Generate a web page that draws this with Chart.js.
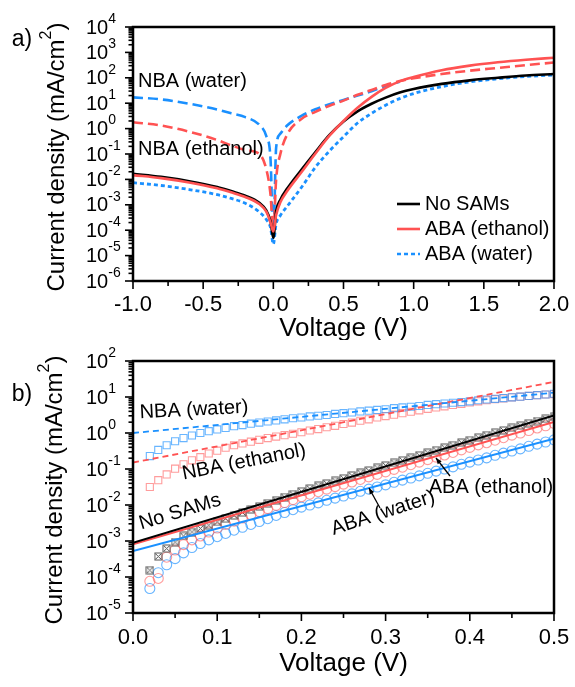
<!DOCTYPE html>
<html><head><meta charset="utf-8">
<script src="https://cdn.jsdelivr.net/npm/chart.js@4/dist/chart.umd.min.js"></script>
<style>
html,body{margin:0;padding:0;background:#fff;}
#wrap{position:relative;width:575px;height:687px;overflow:hidden;}
#ca{position:absolute;left:0;top:0;}
#cb{position:absolute;left:0;top:340px;}
</style></head><body>
<div id="wrap"><canvas id="ca" width="575" height="340"></canvas><canvas id="cb" width="575" height="347"></canvas></div>
<script>
// ---------- Panel a: J-V curves (values are log10 of current density, mA/cm2) ----------
const VA = [-1.0,-0.8,-0.6,-0.4,-0.3,-0.2,-0.1,-0.05,-0.02,0,0.02,0.05,0.1,0.2,0.3,0.4,0.5,0.6,0.7,0.8,0.9,1.0,1.2,1.4,1.6,1.8,2.0];
const A_noSAMs = [-1.78,-1.90,-2.07,-2.30,-2.46,-2.64,-2.92,-3.22,-3.65,-4.30,-3.25,-2.80,-2.35,-1.62,-0.92,-0.25,0.28,0.68,0.98,1.22,1.42,1.56,1.76,1.90,2.00,2.09,2.15];
const A_abaEth = [-1.83,-1.95,-2.12,-2.35,-2.51,-2.69,-2.97,-3.27,-3.70,-4.05,-3.40,-2.90,-2.45,-1.72,-0.98,-0.28,0.30,0.82,1.25,1.60,1.86,2.03,2.30,2.48,2.61,2.71,2.79];
const A_abaWat = [-2.13,-2.24,-2.40,-2.60,-2.75,-2.94,-3.28,-3.58,-3.90,-4.55,-3.75,-3.42,-3.05,-2.32,-1.52,-0.88,-0.32,0.22,0.60,0.92,1.18,1.38,1.65,1.84,1.96,2.05,2.11];
const A_nbaEth = [0.25,0.12,-0.12,-0.45,-0.66,-0.84,-1.00,-1.60,-2.60,-4.10,-2.00,-1.00,-0.22,0.38,0.66,0.90,1.10,1.33,1.52,1.72,1.87,1.98,2.15,2.28,2.39,2.50,2.60];
const A_nbaWat = [1.23,1.15,0.98,0.75,0.60,0.45,0.15,-0.30,-1.20,-4.30,-0.75,-0.20,0.13,0.50,0.76,0.96,1.13,1.30,1.47,1.68,1.84,null,null,null,null,null,null];
const XA_TICKS = [-1.0,-0.5,0.0,0.5,1.0,1.5,2.0];
const YA_EXP = [-6,-5,-4,-3,-2,-1,0,1,2,3,4];
const LEGEND_A = ['No SAMs','ABA (ethanol)','ABA (water)'];

// ---------- Panel b: low-bias data (markers) and exponential fits (lines) ----------
const VB = [0.02,0.03,0.04,0.05,0.06,0.07,0.08,0.09,0.10,0.11,0.12,0.13,0.14,0.15,0.16,0.17,0.18,0.19,0.20,0.21,0.22,0.23,0.24,0.25,0.26,0.27,0.28,0.29,0.30,0.31,0.32,0.33,0.34,0.35,0.36,0.37,0.38,0.39,0.40,0.41,0.42,0.43,0.44,0.45,0.46,0.47,0.48,0.49,0.50];
const B_nbaWat = [-0.64,-0.47,-0.34,-0.23,-0.14,-0.07,0.00,0.05,0.10,0.14,0.19,0.22,0.26,0.29,0.32,0.35,0.38,0.41,0.43,0.46,0.48,0.50,0.53,0.55,0.57,0.60,0.62,0.64,0.66,0.69,0.71,0.73,0.75,0.78,0.80,0.82,0.84,0.86,0.88,0.91,0.93,0.95,0.97,0.99,1.01,1.03,1.05,1.07,1.09];
const B_nbaEth = [-1.50,-1.31,-1.15,-0.99,-0.87,-0.76,-0.67,-0.57,-0.49,-0.41,-0.34,-0.29,-0.24,-0.19,-0.14,-0.10,-0.06,-0.02,0.02,0.07,0.11,0.16,0.20,0.25,0.29,0.34,0.38,0.43,0.47,0.51,0.55,0.59,0.63,0.67,0.71,0.74,0.78,0.81,0.85,0.88,0.91,0.94,0.96,0.99,1.01,1.03,1.05,1.07,1.08];
const B_noSAMs = [-3.81,-3.43,-3.21,-3.03,-2.86,-2.75,-2.65,-2.56,-2.47,-2.38,-2.29,-2.21,-2.12,-2.04,-1.95,-1.87,-1.78,-1.70,-1.62,-1.54,-1.47,-1.40,-1.33,-1.26,-1.18,-1.11,-1.04,-0.97,-0.90,-0.83,-0.76,-0.69,-0.62,-0.55,-0.48,-0.41,-0.34,-0.27,-0.20,-0.13,-0.06,0.01,0.07,0.14,0.20,0.27,0.33,0.39,0.45];
const B_abaEth = [-4.12,-4.04,-3.45,-3.25,-3.10,-2.97,-2.86,-2.75,-2.64,-2.54,-2.45,-2.36,-2.27,-2.18,-2.10,-2.01,-1.93,-1.85,-1.77,-1.70,-1.63,-1.56,-1.49,-1.42,-1.36,-1.29,-1.22,-1.15,-1.08,-1.01,-0.95,-0.88,-0.81,-0.74,-0.67,-0.61,-0.54,-0.47,-0.40,-0.33,-0.27,-0.20,-0.13,-0.06,0.00,0.07,0.14,0.20,0.27];
const B_abaWat = [-4.32,-3.88,-3.66,-3.49,-3.33,-3.18,-3.07,-2.97,-2.88,-2.79,-2.70,-2.62,-2.54,-2.46,-2.38,-2.29,-2.21,-2.13,-2.06,-2.00,-1.94,-1.87,-1.81,-1.75,-1.69,-1.62,-1.56,-1.50,-1.44,-1.37,-1.31,-1.25,-1.19,-1.12,-1.06,-1.00,-0.94,-0.87,-0.81,-0.75,-0.69,-0.62,-0.56,-0.50,-0.44,-0.37,-0.31,-0.25,-0.19];
const VB_FIT = [0.0, 0.5];
const F_nbaWat = [0.00, 1.12];
const F_nbaEth = [-0.82, 1.42];
const F_noSAMs = [-3.05, 0.49];
const F_abaEth = [-3.09, 0.31];
const F_abaWat = [-3.28, -0.16];
const XB_TICKS = [0.0,0.1,0.2,0.3,0.4,0.5];
const YB_EXP = [-5,-4,-3,-2,-1,0,1,2];

// ---------- helpers ----------
const FONT = "'Liberation Sans', Arial, sans-serif";
const RED = '#ff5252', BLUE = '#1a90ff';
const pts = (xs, logs) => xs.map((x, i) => ({x: x, y: logs[i] === null ? null : Math.pow(10, logs[i])}));

function boxCross(size, color) {
  const c = document.createElement('canvas'); c.width = c.height = size;
  const g = c.getContext('2d'); g.strokeStyle = color; g.lineWidth = 1;
  g.strokeRect(1, 1, size - 2, size - 2);
  g.beginPath(); g.moveTo(1.5, 1.5); g.lineTo(size - 1.5, size - 1.5); g.moveTo(size - 1.5, 1.5); g.lineTo(1.5, size - 1.5); g.stroke();
  return c;
}

function seg(ctx, x1, y1, x2, y2) { ctx.beginPath(); ctx.moveTo(x1, y1); ctx.lineTo(x2, y2); ctx.stroke(); }

function supLabel(ctx, xLeft, yMid, base, sup, fb, fs, raise) {
  ctx.textAlign = 'left'; ctx.textBaseline = 'middle'; ctx.fillStyle = '#000';
  ctx.font = fb; const wb = ctx.measureText(base).width;
  ctx.fillText(base, xLeft, yMid);
  ctx.font = fs; ctx.fillText(sup, xLeft + wb, yMid - raise);
}

function textAt(ctx, s, x, y, size, align, rot) {
  ctx.save(); ctx.translate(x, y); if (rot) ctx.rotate(rot * Math.PI / 180);
  ctx.font = size + 'px ' + FONT; ctx.fillStyle = '#000'; ctx.textAlign = align || 'left'; ctx.textBaseline = 'middle';
  ctx.fillText(s, 0, 0); ctx.restore();
}

function arrow(ctx, x1, y1, x2, y2) {
  ctx.save(); ctx.strokeStyle = '#000'; ctx.fillStyle = '#000'; ctx.lineWidth = 1.3;
  seg(ctx, x1, y1, x2, y2);
  const a = Math.atan2(y2 - y1, x2 - x1), L = 6, W = 2.5;
  ctx.beginPath(); ctx.moveTo(x2, y2);
  ctx.lineTo(x2 - L * Math.cos(a) + W * Math.sin(a), y2 - L * Math.sin(a) - W * Math.cos(a));
  ctx.lineTo(x2 - L * Math.cos(a) - W * Math.sin(a), y2 - L * Math.sin(a) + W * Math.cos(a));
  ctx.closePath(); ctx.fill(); ctx.restore();
}

const axesPlugin = {
  id: 'axesDecor',
  afterDraw(chart, args, o) {
    const ctx = chart.ctx, a = chart.chartArea, x = chart.scales.x, y = chart.scales.y;
    ctx.save();
    ctx.strokeStyle = '#000'; ctx.lineWidth = 2.5;
    ctx.strokeRect(a.left, a.top, a.right - a.left, a.bottom - a.top);
    ctx.lineWidth = 1.6;
    o.yExp.forEach((e, i) => {
      const py = y.getPixelForValue(Math.pow(10, e));
      seg(ctx, a.left - 1, py, a.left - 8, py);
      if (i < o.yExp.length - 1) for (let m = 2; m <= 9; m++) {
        const pm = y.getPixelForValue(m * Math.pow(10, e)); seg(ctx, a.left - 1, pm, a.left - 4.5, pm);
      }
      supLabel(ctx, o.yLabLeft, py + 1, '10', String(e), '20px ' + FONT, '14px ' + FONT, 9);
    });
    o.xTicks.forEach((v, i) => {
      const px = x.getPixelForValue(v);
      seg(ctx, px, a.bottom + 1, px, a.bottom + 8);
      if (i < o.xTicks.length - 1) {
        const pm = x.getPixelForValue((v + o.xTicks[i + 1]) / 2); seg(ctx, pm, a.bottom + 1, pm, a.bottom + 5);
      }
      textAt(ctx, v.toFixed(1), px, a.bottom + o.xLabDy, 22, 'center');
    });
    textAt(ctx, 'Voltage (V)', (a.left + a.right) / 2, o.xTitleY, 26, 'center');
    ctx.save(); ctx.translate(o.yTitleX, o.yTitleY); ctx.rotate(-Math.PI / 2);
    ctx.fillStyle = '#000'; ctx.textBaseline = 'middle';
    const t1 = 'Current density (mA/cm', t2 = '2', t3 = ')';
    ctx.font = '24px ' + FONT; const w1 = ctx.measureText(t1).width, w3 = ctx.measureText(t3).width;
    ctx.font = '16px ' + FONT; const w2 = ctx.measureText(t2).width;
    let sx = -(w1 + w2 + w3) / 2;
    ctx.textAlign = 'left';
    ctx.font = '24px ' + FONT; ctx.fillText(t1, sx, 0);
    ctx.font = '16px ' + FONT; ctx.fillText(t2, sx + w1, -10);
    ctx.font = '24px ' + FONT; ctx.fillText(t3, sx + w1 + w2, 0);
    ctx.restore();
    textAt(ctx, o.letter, o.letterX, o.letterY, 23, 'center');
    if (o.extra) o.extra(ctx, chart);
    ctx.restore();
  }
};

// ---------- Chart a ----------
const dsA = [
  {label: LEGEND_A[1], data: pts(VA, A_abaEth), borderColor: RED, borderWidth: 2.6, order: 1},
  {label: LEGEND_A[0], data: pts(VA, A_noSAMs), borderColor: '#000', borderWidth: 2.6, order: 2},
  {label: 'NBA (ethanol)', data: pts(VA, A_nbaEth), borderColor: RED, borderWidth: 2.6, borderDash: [10, 5], order: 3},
  {label: LEGEND_A[2], data: pts(VA, A_abaWat), borderColor: BLUE, borderWidth: 2.8, borderDash: [4, 3], order: 4},
  {label: 'NBA (water)', data: pts(VA, A_nbaWat), borderColor: BLUE, borderWidth: 2.6, borderDash: [10, 5], order: 5}
];
dsA.forEach(d => { d.pointRadius = 0; d.fill = false; d.cubicInterpolationMode = 'monotone'; d.spanGaps = false; });

new Chart(document.getElementById('ca'), {
  type: 'line',
  data: {datasets: dsA},
  options: {
    responsive: false, animation: false, events: [],
    layout: {padding: {top: 27, right: 21, left: 0, bottom: 0}},
    plugins: {legend: {display: false}, tooltip: {enabled: false},
      axesDecor: {
        yExp: YA_EXP, xTicks: XA_TICKS, yLabLeft: 86, xLabDy: 24, xTitleY: 329,
        yTitleX: 57, yTitleY: 157, letter: 'a)', letterX: 22, letterY: 40,
        extra(ctx, chart) {
          textAt(ctx, 'NBA (water)', 138, 81, 20, 'left');
          textAt(ctx, 'NBA (ethanol)', 138, 149, 20, 'left');
          const styles = [{c: '#000', d: []}, {c: RED, d: []}, {c: BLUE, d: [4, 3]}];
          LEGEND_A.forEach((s, i) => {
            const yy = 204 + i * 25;
            ctx.save(); ctx.strokeStyle = styles[i].c; ctx.lineWidth = 2.6; ctx.setLineDash(styles[i].d);
            seg(ctx, 397, yy, 420, yy); ctx.restore();
            textAt(ctx, s, 425, yy, 20, 'left');
          });
        }
      }
    },
    scales: {
      x: {type: 'linear', min: -1, max: 2, ticks: {display: false}, grid: {display: false, drawTicks: false}, border: {display: false},
          afterFit(s) { s.height = 59; }},
      y: {type: 'logarithmic', min: 1e-6, max: 1e4, ticks: {display: false}, grid: {display: false, drawTicks: false}, border: {display: false},
          afterFit(s) { s.width = 133; }}
    }
  },
  plugins: [axesPlugin]
});

// ---------- Chart b ----------
const mk = (label, logs, style, color, r) => ({label, data: pts(VB, logs), showLine: false, pointStyle: style,
  pointRadius: r, pointBorderColor: color, pointBackgroundColor: 'rgba(0,0,0,0)', pointBorderWidth: 1.1, borderColor: color, order: 10});
const fit = (label, logs, color, dash, w) => ({label, data: pts(VB_FIT, logs), borderColor: color, borderWidth: w, borderDash: dash, pointRadius: 0, order: 1});
const dsB = [
  fit('NBA (water) fit', F_nbaWat, BLUE, [6, 4], 1.8),
  fit('NBA (ethanol) fit', F_nbaEth, RED, [6, 4], 1.8),
  fit('No SAMs fit', F_noSAMs, '#000', [], 2),
  fit('ABA (ethanol) fit', F_abaEth, RED, [], 2),
  fit('ABA (water) fit', F_abaWat, BLUE, [], 2),
  mk('NBA (water)', B_nbaWat, 'rect', 'rgba(40,150,255,0.7)', 5),
  mk('NBA (ethanol)', B_nbaEth, 'rect', 'rgba(255,90,90,0.6)', 5),
  mk('No SAMs', B_noSAMs, boxCross(9, '#555'), '#555', 5),
  mk('ABA (ethanol)', B_abaEth, 'circle', 'rgba(255,90,90,0.6)', 5),
  mk('ABA (water)', B_abaWat, 'circle', 'rgba(40,150,255,0.7)', 5)
];

new Chart(document.getElementById('cb'), {
  type: 'line',
  data: {datasets: dsB},
  options: {
    responsive: false, animation: false, events: [],
    layout: {padding: {top: 21, right: 21, left: 0, bottom: 0}},
    plugins: {legend: {display: false}, tooltip: {enabled: false},
      axesDecor: {
        yExp: YB_EXP, xTicks: XB_TICKS, yLabLeft: 86, xLabDy: 25, xTitleY: 324,
        yTitleX: 55, yTitleY: 150, letter: 'b)', letterX: 22, letterY: 55,
        extra(ctx, chart) {
          textAt(ctx, 'NBA (water)', 194, 70, 20, 'center', -3);
          textAt(ctx, 'NBA (ethanol)', 244, 122, 20, 'center', -11);
          textAt(ctx, 'No SAMs', 180, 172, 20, 'center', -17);
          textAt(ctx, 'ABA (water)', 383, 173, 20, 'center', -18);
          textAt(ctx, 'ABA (ethanol)', 491, 147, 20, 'center', 0);
          arrow(ctx, 380, 168, 369, 148);
          arrow(ctx, 450, 136, 436, 118);
        }
      }
    },
    scales: {
      x: {type: 'linear', min: 0, max: 0.5, ticks: {display: false}, grid: {display: false, drawTicks: false}, border: {display: false},
          afterFit(s) { s.height = 74; }},
      y: {type: 'logarithmic', min: 1e-5, max: 1e2, ticks: {display: false}, grid: {display: false, drawTicks: false}, border: {display: false},
          afterFit(s) { s.width = 133; }}
    }
  },
  plugins: [axesPlugin]
});
</script>
</body></html>
